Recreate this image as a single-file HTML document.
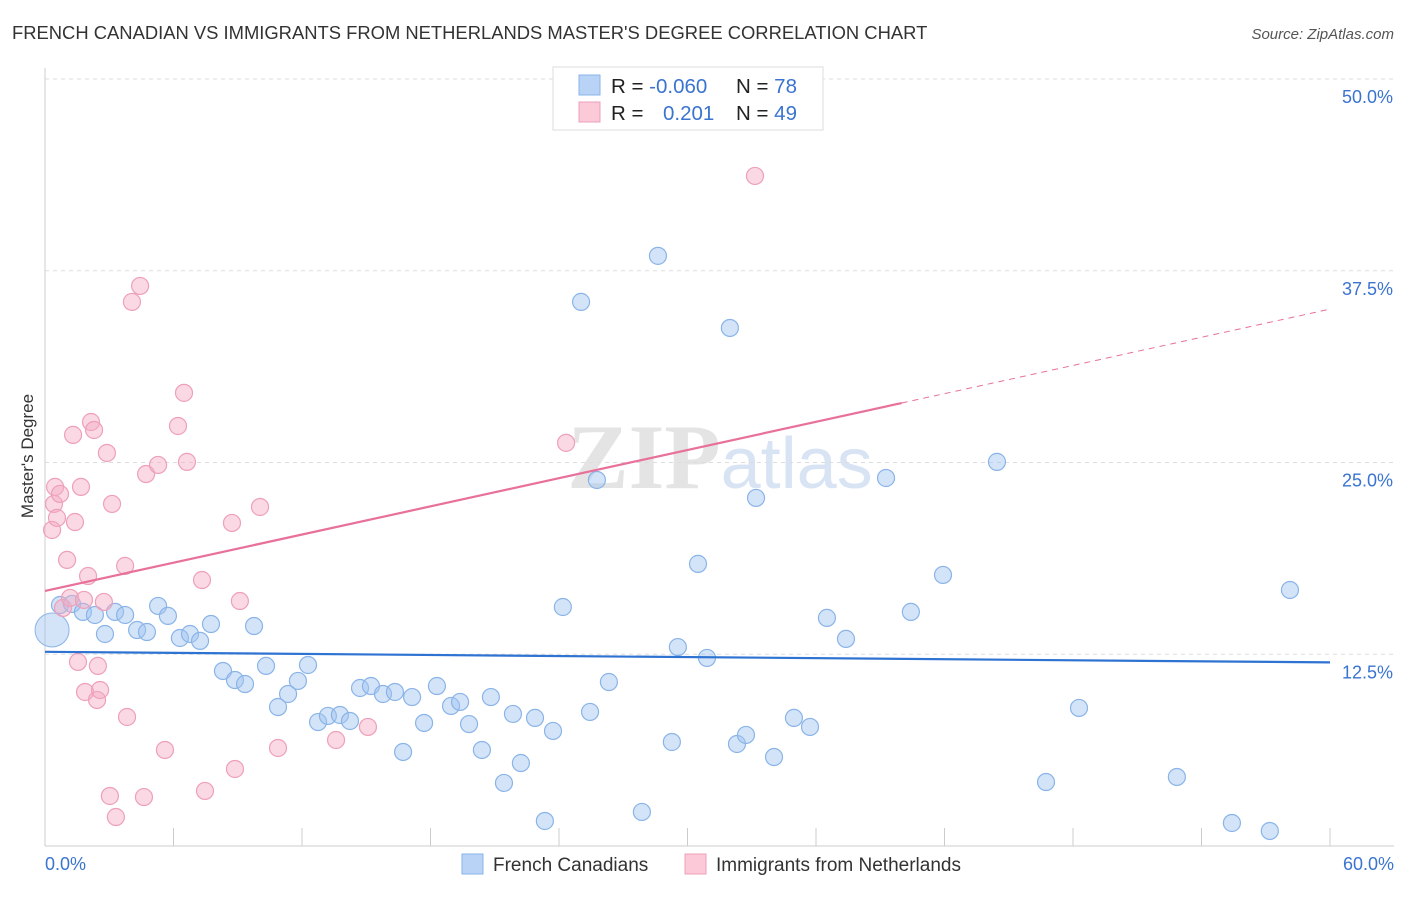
<!DOCTYPE html>
<html><head><meta charset="utf-8"><style>
body{margin:0;background:#fff;font-family:"Liberation Sans",sans-serif;}
svg text{font-family:"Liberation Sans",sans-serif;}
</style></head><body>
<svg id="chart" width="1406" height="892" xmlns="http://www.w3.org/2000/svg">
<text x="12" y="39" font-size="18.4" fill="#333">FRENCH CANADIAN VS IMMIGRANTS FROM NETHERLANDS MASTER'S DEGREE CORRELATION CHART</text>
<text x="1394" y="39" font-size="15" fill="#555" font-style="italic" text-anchor="end">Source: ZipAtlas.com</text>
<text x="720" y="488" font-size="92" text-anchor="middle" fill="#e4e4e4"><tspan font-family="Liberation Serif" font-weight="bold">ZIP</tspan><tspan fill="#d8e4f4" font-size="72">atlas</tspan></text>
<g id="grid"></g>
<g id="axes"></g>
<g id="pts"></g>
<g id="lines"></g>
<text transform="translate(33,456) rotate(-90)" font-size="17" fill="#333" text-anchor="middle">Master's Degree</text>
<g>
<rect x="553" y="67" width="270" height="63" fill="#fff" stroke="#ddd"/>
<rect x="579" y="75" width="21" height="20" fill="#b8d3f5" stroke="#8ab4e8"/>
<rect x="579" y="102" width="21" height="20" fill="#fbc9d8" stroke="#eea0b8"/>
<text x="611" y="93" font-size="20.5" fill="#222">R = <tspan fill="#3a74d0">-0.060</tspan></text>
<text x="736" y="93" font-size="20.5" fill="#222">N = <tspan fill="#3a74d0">78</tspan></text>
<text x="611" y="120" font-size="20.5" fill="#222">R = </text>
<text x="663" y="120" font-size="20.5" fill="#3a74d0">0.201</text>
<text x="736" y="120" font-size="20.5" fill="#222">N = <tspan fill="#3a74d0">49</tspan></text>
</g>
<g>
<rect x="462" y="854" width="21" height="20" fill="#b8d3f5" stroke="#8ab4e8"/>
<text x="493" y="871" font-size="19" fill="#333">French Canadians</text>
<rect x="685" y="854" width="21" height="20" fill="#fbc9d8" stroke="#eea0b8"/>
<text x="716" y="871" font-size="19" fill="#333">Immigrants from Netherlands</text>
</g>
</svg>
<script>
const blueX=[0.70,1.26,1.77,2.33,3.27,3.74,2.80,4.30,4.76,5.28,5.74,6.30,6.77,7.24,7.75,8.31,8.87,9.34,9.76,10.32,10.88,11.35,11.81,12.28,12.75,13.21,13.77,14.24,14.71,15.22,15.78,16.34,16.72,17.14,17.70,18.30,18.96,19.38,19.80,20.40,20.82,21.43,21.85,22.22,22.88,23.34,23.72,24.18,25.03,25.45,25.77,26.33,27.87,28.62,29.27,29.55,30.49,30.91,31.98,32.31,32.73,33.20,34.04,34.97,35.72,36.51,37.40,39.27,40.43,41.93,44.45,46.74,48.28,52.85,55.42,57.19,58.13];
const blueY=[15.71,15.78,15.26,15.06,15.26,15.06,13.82,14.08,13.95,15.65,15.00,13.56,13.82,13.37,14.47,11.41,10.82,10.56,14.34,11.74,9.06,9.91,10.76,11.80,8.08,8.48,8.54,8.15,10.30,10.43,9.91,10.04,6.13,9.71,8.02,10.43,9.13,9.39,7.95,6.26,9.71,4.11,8.61,5.41,8.35,1.63,7.50,15.58,35.47,8.74,23.86,10.69,2.22,38.47,6.78,12.97,18.39,12.26,33.77,6.65,7.24,22.69,5.80,8.35,7.76,14.87,13.50,23.99,15.26,17.67,25.04,4.17,9.00,4.50,1.50,0.98,16.69];
const pinkX=[0.33,0.42,0.47,0.56,0.70,0.84,1.03,1.17,1.31,1.40,1.54,1.68,1.82,1.87,2.01,2.15,2.29,2.47,2.43,2.57,2.75,2.89,3.03,3.13,3.31,3.74,3.83,4.06,4.44,4.62,4.72,5.28,5.60,6.21,6.49,6.63,7.33,7.47,8.73,8.87,9.10,10.04,10.88,13.59,15.08,24.33,33.15];
const pinkY=[20.60,22.30,23.41,21.39,22.95,15.52,18.65,16.17,26.80,21.12,12.00,23.41,16.04,10.04,17.60,27.64,27.12,11.74,9.52,10.17,15.91,25.62,3.26,22.30,1.89,18.26,8.41,35.47,36.51,3.19,24.25,24.84,6.26,27.38,29.54,25.04,17.34,3.59,21.06,5.02,15.97,22.10,6.39,6.91,7.76,26.28,43.68];
const yTicks=[12.5,25.0,37.5,50.0];
const xTickLabels=["0.0%","60.0%"];
const blueTrend=[12.66,11.97];
const pinkTrend=[16.63,35.0];
const X0=45,X1=1330,Y0=846,Y50=79;
const sx=v=>X0+(v/60)*(X1-X0);
const sy=v=>Y0-(v/50)*(Y0-Y50);
const NS="http://www.w3.org/2000/svg";
function mk(t,a,p){const e=document.createElementNS(NS,t);for(const k in a)e.setAttribute(k,a[k]);p.appendChild(e);return e;}
const grid=document.getElementById('grid'),axes=document.getElementById('axes'),pts=document.getElementById('pts'),lines=document.getElementById('lines');
yTicks.forEach(v=>{
 const l=mk('line',{x1:X0,x2:1394,y1:sy(v),y2:sy(v),stroke:'#ddd','stroke-dasharray':'4,4'},grid);
 
 
 const t=mk('text',{x:1393,y:sy(v)+24,'font-size':18,fill:'#3a74d0','text-anchor':'end'},axes);
 t.textContent=v.toFixed(1)+'%';
 
 
});
mk('line',{x1:X0,x2:X0,y1:68,y2:Y0,stroke:'#ccc'},axes);
mk('line',{x1:X0,x2:1394,y1:Y0,y2:Y0,stroke:'#ccc'},axes);
for(let i=0;i<=10;i++){mk('line',{x1:sx(i*6),x2:sx(i*6),y1:Y0,y2:Y0-18,stroke:'#ccc'},axes);}
[[0,'start',45],[60,'end',1394]].forEach((d,i)=>{const t=mk('text',{x:d[2],y:870,'font-size':18,fill:'#3a74d0','text-anchor':d[1]},axes);t.textContent=xTickLabels[i];
 
 });
const big=mk('circle',{cx:sx(0.33),cy:sy(14.08),r:17,fill:'rgba(160,196,240,0.45)',stroke:'#8ab4e8'},pts);


blueX.forEach((x,i)=>{const c=mk('circle',{cx:sx(x),cy:sy(blueY[i]),r:8.5,fill:'rgba(160,196,240,0.45)',stroke:'#8ab4e8','stroke-width':1.2},pts);
 
 });
pinkX.forEach((x,i)=>{const c=mk('circle',{cx:sx(x),cy:sy(pinkY[i]),r:8.5,fill:'rgba(245,170,195,0.45)',stroke:'#eea0b8','stroke-width':1.2},pts);
 
 });
const bl=mk('line',{x1:sx(0),y1:sy(blueTrend[0]),x2:sx(60),y2:sy(blueTrend[1]),stroke:'#2e72d2','stroke-width':2.2},lines);


const pAt=x=>pinkTrend[0]+(pinkTrend[1]-pinkTrend[0])*x/60;
const pl=mk('line',{x1:sx(0),y1:sy(pAt(0)),x2:sx(40),y2:sy(pAt(40)),stroke:'#e8709a','stroke-width':2.2},lines);


const pd=mk('line',{x1:sx(40),y1:sy(pAt(40)),x2:sx(60),y2:sy(pAt(60)),stroke:'#e8709a','stroke-width':1,'stroke-dasharray':'6,5'},lines);


</script>
</body></html>
